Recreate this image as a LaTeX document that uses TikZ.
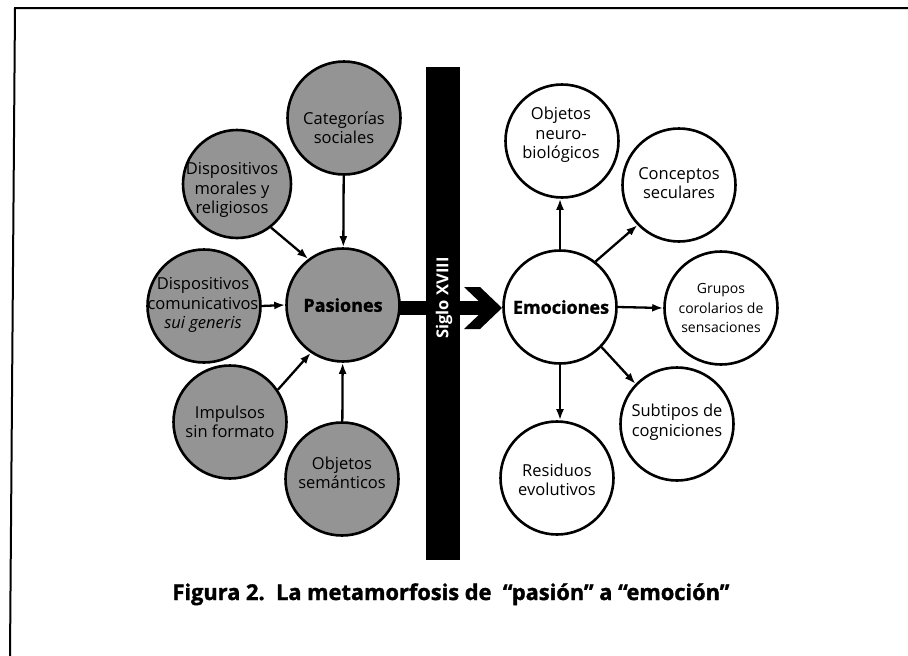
\documentclass[tikz,border=0pt]{standalone}
\usepackage{fontspec}
\setmainfont{Open Sans}
\usetikzlibrary{arrows.meta}
\begin{document}
\begin{tikzpicture}[x=1pt,y=-1pt,
  pcirc/.style={circle,draw=black,line width=2.6pt,fill=black!42,minimum size=113pt,inner sep=0pt},
  ecirc/.style={circle,draw=black,line width=2.6pt,fill=white,minimum size=113pt,inner sep=0pt},
  ctext/.style={align=center,font=\fontsize{16.5}{19.5}\selectfont,inner sep=0pt},
  stext/.style={align=center,font=\fontsize{14}{19.5}\selectfont,inner sep=0pt},
  btext/.style={font=\bfseries\addfontfeatures{FakeBold=1.2}\fontsize{18}{20}\selectfont,inner sep=0pt},
  arr/.style={line width=2.3pt,-{Latex[length=11pt,width=8pt]}},
]
\useasboundingbox (0,0) rectangle (908,656);
% frame
\draw[line width=2pt] (908,8) -- (15,8) -- (10,656);
% big arrow shaft and bar
\fill (343,301) rectangle (487,315);
\fill (464,287) -- (480,287) -- (502,308) -- (480,329) -- (464,329) -- (486,308) -- cycle;
\fill (426,67) rectangle (460,560);
\node[rotate=90,text=white,font=\bfseries\fontsize{16.5}{16.5}\selectfont,inner sep=0pt] (siglo) at (444,298) {Siglo XVIII};
% left circles
\node[pcirc] (pas) at (343,305) {};
\node[pcirc] (cat) at (344,118) {};
\node[pcirc,minimum size=108pt] (mor) at (237,184) {};
\node[pcirc] (com) at (204,306) {};
\node[pcirc] (imp) at (230,422) {};
\node[pcirc] (sem) at (342,479) {};
\node[btext] at (343,305) {Pasiones};
\node[ctext] at (344,128) {Categorías\\sociales};
\node[ctext] at (232,190) {Dispositivos\\morales y\\religiosos};
\node[ctext] at (203,305) {Dispositivos\\comunicativos\\\textit{sui generis}};
\node[ctext] at (230,422) {Impulsos\\sin formato};
\node[ctext] at (342,473) {Objetos\\semánticos};
% right circles
\node[ecirc] (emo) at (560,307) {};
\node[ecirc] (neu) at (562,141) {};
\node[ecirc] (con) at (679,185) {};
\node[ecirc] (gru) at (721,308) {};
\node[ecirc] (sub) at (677,424) {};
\node[ecirc] (res) at (557,478) {};
\node[btext] at (561,307) {Emociones};
\node[ctext] at (561,135) {Objetos\\neuro-\\biológicos};
\node[ctext] at (679,183) {Conceptos\\seculares};
\node[stext] at (721,308) {Grupos\\corolarios de\\sensaciones};
\node[ctext] at (677,422) {Subtipos de\\cogniciones};
\node[ctext] at (557,480) {Residuos\\evolutivos};
% arrows into Pasiones
\draw[arr] (cat) -- (pas);
\draw[arr] (mor.-52) -- (pas.127);
\draw[arr] (com.east) -- (pas.west);
\draw[arr] (imp.34) -- (pas.-124);
\draw[arr] (sem) -- (pas);
% arrows out of Emociones
\draw[arr] (emo.north) -- (emo.north |- neu.south);
\draw[arr] (emo.52) -- (con.-136);
\draw[arr] (emo.east) -- (gru.west);
\draw[arr] (emo.-44) -- (sub.136);
\draw[arr] (emo.south) -- (emo.south |- res.north);
% caption
\node[font=\bfseries\addfontfeatures{FakeBold=1.5}\fontsize{21.8}{22}\selectfont,anchor=base,inner sep=0pt] (cap) at (451,600) {Figura 2.\ \ La metamorfosis de\ \ “pasión” a “emoción”};
\end{tikzpicture}
\end{document}
